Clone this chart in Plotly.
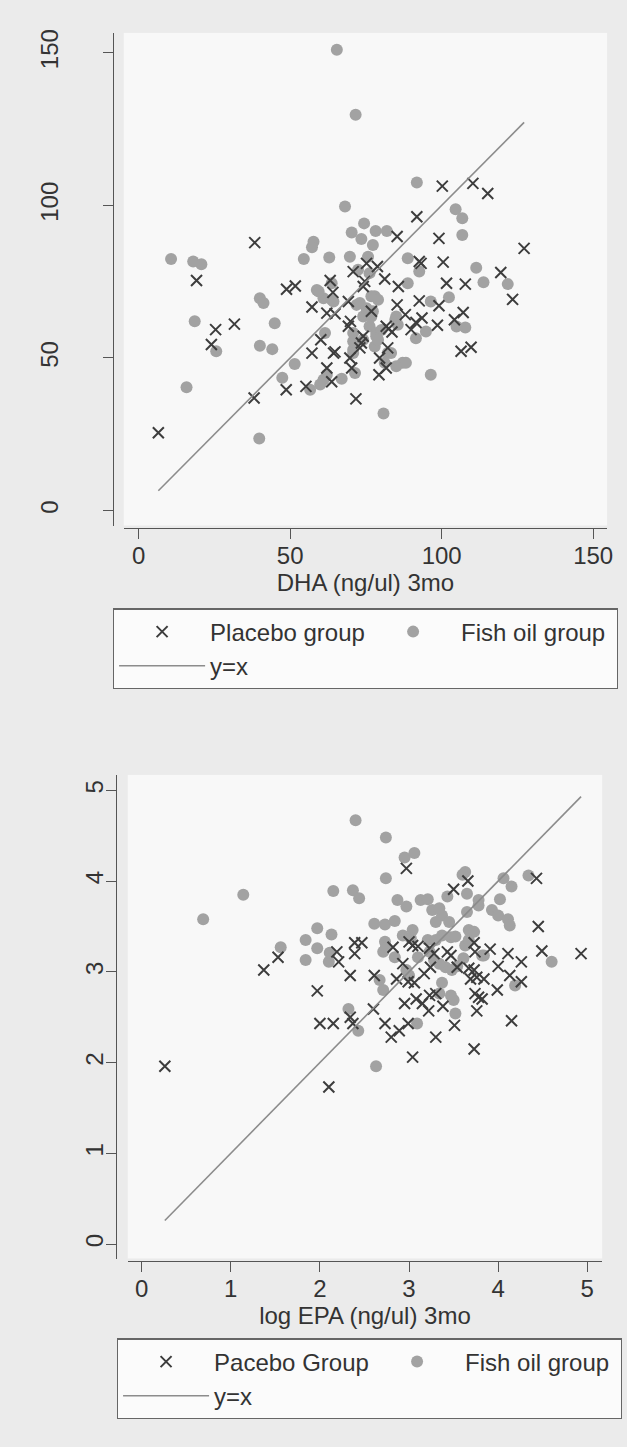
import plotly.graph_objects as go

# ---------------- data ----------------
# Top panel: DHA (ng/ul) 3mo
top_placebo_x = [6.5, 19.1, 24.0, 25.4, 31.6, 38.3, 38.1, 48.7, 48.8, 51.7, 55.2, 57.2, 57.2, 60.1,
                 62.1, 64.8, 63.2, 64.1, 64.3, 64.8, 62.1, 63.7, 69.7, 70.3, 69.9, 69.2, 69.2, 70.8,
                 71.7, 73.5, 73.0, 74.1, 74.1, 74.6, 75.2, 76.8, 78.8, 81.2, 79.5, 81.7, 79.3, 82.2,
                 82.5, 83.6, 81.7, 85.3, 88.0, 85.7, 85.3, 89.9, 91.5, 92.6, 93.5, 91.8, 92.6, 93.2,
                 98.6, 99.1, 99.1, 100.5, 100.2, 101.6, 104.2, 107.1, 106.4, 109.7, 107.8, 110.3,
                 115.2, 119.5, 123.4, 127.2]
top_placebo_y = [25.5, 75.4, 54.4, 59.3, 61.1, 87.8, 36.9, 39.6, 72.5, 73.6, 40.7, 66.7, 51.6, 56.0,
                 64.7, 64.5, 75.4, 71.5, 51.6, 52.0, 46.7, 42.2, 50.0, 46.7, 62.0, 60.4, 68.5, 78.3,
                 36.6, 54.9, 53.3, 57.1, 73.4, 75.1, 81.0, 65.3, 80.0, 75.9, 50.0, 46.7, 44.5, 53.3,
                 59.6, 58.5, 60.4, 67.4, 64.2, 73.4, 89.8, 59.3, 61.6, 68.7, 63.1, 96.3, 81.6, 81.0,
                 60.7, 67.1, 89.2, 81.4, 106.3, 74.5, 62.5, 64.9, 52.2, 53.5, 74.2, 107.2,
                 103.9, 78.0, 69.2, 85.9]

top_fish_x = [65.4, 71.6, 91.8, 68.1, 74.4, 104.6, 106.8, 106.8, 70.3, 73.5, 78.2, 81.9, 57.7, 57.2,
              77.3, 10.7, 18.0, 20.7, 54.5, 62.9, 69.7, 75.7, 88.8, 92.6, 111.4, 113.8, 121.8, 88.8,
              72.4, 58.8, 77.9, 102.4, 40.0, 41.2, 18.5, 25.6, 44.9, 40.0, 44.1, 61.0, 63.7, 63.7,
              61.5, 51.5, 47.4, 61.0, 59.9, 67.0, 56.6, 15.8, 39.8, 80.8, 96.4, 104.9, 107.8, 96.4,
              91.5, 94.8, 84.7, 85.5, 87.1, 85.0, 82.2, 81.2, 71.9, 74.1, 76.2, 70.8, 78.4, 70.8,
              77.9, 74.1, 77.3, 76.8, 79.0, 71.4, 76.2, 59.4, 64.3, 73.0, 75.2, 78.4, 80.1, 70.8,
              70.8, 79.0, 83.3, 88.2, 85.0, 62.1, 76.8]
top_fish_y = [151.0, 129.7, 107.5, 99.6, 94.1, 98.7, 95.8, 90.3, 91.1, 89.0, 91.6, 91.6, 88.1, 86.3,
              87.0, 82.4, 81.6, 80.7, 82.4, 82.9, 83.2, 83.2, 82.7, 78.3, 79.6, 74.8, 74.2, 74.5,
              78.9, 72.3, 70.2, 69.9, 69.6, 68.0, 62.0, 52.2, 61.4, 54.0, 52.9, 69.6, 69.1, 74.5,
              58.2, 48.0, 43.5, 42.9, 41.3, 43.2, 39.6, 40.4, 23.6, 31.8, 44.5, 60.3, 60.0, 68.5,
              56.5, 58.7, 62.5, 60.9, 48.4, 47.3, 51.6, 48.4, 67.4, 63.6, 60.4, 58.2, 58.2, 52.7,
              53.8, 56.0, 65.3, 70.2, 69.1, 45.1, 77.8, 71.8, 68.5, 68.0, 66.3, 57.1, 59.2, 55.5,
              51.6, 56.0, 51.6, 48.4, 63.6, 44.5, 63.6]

# Bottom panel: log EPA (ng/ul) 3mo
bot_placebo_x = [0.26, 1.37, 1.53, 1.97, 2.00, 2.15, 2.10, 2.19, 2.21, 2.34, 2.34, 2.37, 2.39, 2.47,
                 2.39, 2.60, 2.61, 2.73, 2.80, 2.89, 2.99, 2.82, 2.86, 2.93, 2.95, 2.97, 3.00, 2.99,
                 3.06, 3.04, 3.04, 3.10, 3.08, 3.15, 3.17, 3.22, 3.23, 3.23, 3.28, 3.24, 3.30, 3.30,
                 3.38, 3.43, 3.47, 3.51, 3.50, 3.54, 3.66, 3.67, 3.69, 3.73, 3.73, 3.74, 3.73, 3.74,
                 3.78, 3.82, 3.76, 3.84, 3.76, 3.91, 3.99, 4.00, 4.11, 4.13, 4.15, 4.26, 4.26, 4.43,
                 4.45, 4.49, 4.93]
bot_placebo_y = [1.96, 3.02, 3.16, 2.79, 2.43, 2.43, 1.73, 3.22, 3.11, 2.96, 2.50, 2.43, 3.32, 3.32,
                 3.20, 2.59, 2.96, 2.43, 2.28, 2.35, 2.43, 3.27, 2.92, 3.09, 2.65, 4.14, 3.33, 2.89,
                 2.88, 2.06, 3.29, 3.28, 2.70, 2.65, 2.98, 2.57, 2.74, 3.26, 3.20, 3.05, 2.28, 2.76,
                 2.62, 3.22, 3.18, 2.41, 3.91, 3.05, 4.00, 3.04, 2.92, 3.02, 3.32, 3.22, 2.15, 2.76,
                 2.72, 2.70, 2.94, 2.92, 2.57, 3.25, 2.80, 3.06, 3.20, 2.96, 2.46, 3.11, 2.89, 4.03,
                 3.50, 3.23, 3.20]

bot_fish_x = [0.69, 1.14, 1.56, 1.84, 1.84, 1.97, 1.97, 2.13, 2.10, 2.11, 2.15, 2.37, 2.44, 2.40,
              2.74, 2.95, 3.06, 2.74, 2.61, 2.73, 2.84, 2.87, 2.97, 3.13, 3.21, 3.43, 3.65, 3.78,
              3.78, 3.63, 3.60, 4.06, 4.15, 4.34, 4.02, 3.65, 3.93, 4.00, 4.11, 4.13, 3.26, 3.30,
              3.37, 3.45, 3.34, 2.93, 3.04, 3.02, 2.73, 2.71, 2.74, 2.84, 3.10, 3.23, 3.28, 3.37,
              3.47, 3.21, 3.30, 3.52, 3.67, 3.73, 3.63, 3.67, 3.82, 3.61, 3.41, 3.48, 3.54, 3.34,
              2.97, 3.00, 2.67, 2.71, 3.37, 3.34, 3.47, 3.50, 3.52, 4.19, 4.60, 3.84, 2.32, 2.43,
              3.09, 2.63]
bot_fish_y = [3.58, 3.85, 3.27, 3.35, 3.13, 3.48, 3.26, 3.41, 3.11, 3.21, 3.89, 3.90, 3.81, 4.67,
              4.48, 4.26, 4.31, 4.03, 3.53, 3.52, 3.56, 3.79, 3.72, 3.79, 3.80, 3.83, 3.86, 3.79,
              3.73, 4.10, 4.07, 4.03, 3.94, 4.06, 3.80, 3.66, 3.68, 3.62, 3.58, 3.51, 3.68, 3.55,
              3.62, 3.55, 3.70, 3.40, 3.46, 3.37, 3.33, 3.22, 3.27, 3.16, 3.16, 3.22, 3.13, 3.40,
              3.38, 3.35, 3.35, 3.39, 3.46, 3.44, 3.29, 3.35, 3.18, 3.15, 3.05, 3.02, 3.06, 3.09,
              3.02, 2.96, 2.91, 2.80, 2.88, 2.76, 2.74, 2.69, 2.54, 2.85, 3.11, 3.18, 2.59, 2.35,
              2.43, 1.96]

top_ticks = [0, 50, 100, 150]
bot_ticks = [0, 1, 2, 3, 4, 5]
top_names = ["Placebo group", "Fish oil group", "y=x"]
bot_names = ["Pacebo Group", "Fish oil group", "y=x"]
top_xtitle = "DHA (ng/ul) 3mo"
bot_xtitle = "log EPA (ng/ul) 3mo"

# ---------------- styling / layout ----------------
W, H = 627, 1447
FONT = "Liberation Sans, Arial, sans-serif"
TXT = "#333333"
AX = "#555555"
XCOL = "#3d3d3d"
DOTCOL = "#a2a2a2"
LINECOL = "#8c8c8c"


def px(x):
    return x / W


def py(y):
    return 1 - y / H


fig = go.Figure()


def add_panel(xa, ya, leg, px_x, px_y, fx, fy, names, msize):
    lo = min(min(px_x), min(fx))
    hi = max(max(px_x), max(fx))
    fig.add_trace(go.Scatter(x=fx, y=fy, mode="markers", name=names[1], legend=leg,
                             legendrank=2, xaxis=xa, yaxis=ya,
                             marker=dict(symbol="circle", size=msize + 1, color=DOTCOL,
                                         line=dict(width=0))))
    fig.add_trace(go.Scatter(x=px_x, y=px_y, mode="markers", name=names[0], legend=leg,
                             legendrank=1, xaxis=xa, yaxis=ya,
                             marker=dict(symbol="x-thin", size=msize, color=XCOL,
                                         line=dict(width=2, color=XCOL))))
    fig.add_trace(go.Scatter(x=[lo, hi], y=[lo, hi], mode="lines", name=names[2], legend=leg,
                             legendrank=3, xaxis=xa, yaxis=ya,
                             line=dict(color=LINECOL, width=1.6)))


add_panel("x", "y", "legend", top_placebo_x, top_placebo_y, top_fish_x, top_fish_y, top_names, 11)
add_panel("x2", "y2", "legend2", bot_placebo_x, bot_placebo_y, bot_fish_x, bot_fish_y, bot_names, 11)

axis_common = dict(showline=True, linecolor=AX, linewidth=1.3, ticks="outside", ticklen=10,
                   tickwidth=1.3, tickcolor=AX, showgrid=False, zeroline=False,
                   tickfont=dict(family=FONT, size=24, color=TXT), anchor="free")

legend_common = dict(orientation="h", xanchor="left", yanchor="top", bgcolor="#fbfbfb",
                     bordercolor="#666666", borderwidth=1.2, itemwidth=86,
                     entrywidth=150, entrywidthmode="pixels",
                     font=dict(family=FONT, size=24, color=TXT))

fig.update_layout(
    width=W, height=H, autosize=False,
    margin=dict(l=0, r=0, t=0, b=0, pad=0),
    paper_bgcolor="#ebebeb", plot_bgcolor="#f8f8f8",
    font=dict(family=FONT, size=24, color=TXT),
    xaxis=dict(axis_common, domain=[px(125), px(613)], range=[-4.9, 154.6],
               position=py(525), tickvals=top_ticks, ticklabelstandoff=-3,
               title=dict(text=top_xtitle, standoff=0, font=dict(family=FONT, size=24, color=TXT))),
    yaxis=dict(axis_common, domain=[py(523), py(29)], range=[-4.9, 156.5],
               position=px(114), tickvals=top_ticks, tickangle=-90, ticklabelstandoff=35),
    xaxis2=dict(axis_common, domain=[px(129), px(608)], range=[-0.156, 5.167],
                position=py(1260), tickvals=bot_ticks, ticklabelstandoff=-3,
                title=dict(text=bot_xtitle, standoff=1, font=dict(family=FONT, size=24, color=TXT))),
    yaxis2=dict(axis_common, domain=[py(1258), py(773)], range=[-0.159, 5.17],
                position=px(117), tickvals=bot_ticks, tickangle=-90, ticklabelstandoff=-7),
    legend=dict(legend_common, x=px(114), y=py(606)),
    legend2=dict(legend_common, x=px(118), y=py(1338)),
    showlegend=True,
)

fig.write_html(
    "out.html",
    config={"displayModeBar": False},
    post_script="document.body.style.margin='0';document.body.style.padding='0';"
                "document.body.style.overflow='hidden';",
)
